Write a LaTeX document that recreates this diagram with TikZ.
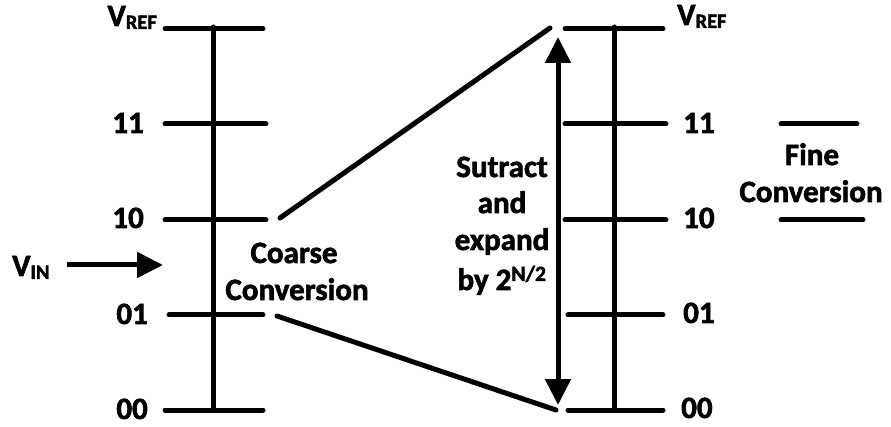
\documentclass[tikz,border=0pt]{standalone}
\usepackage{fontspec}
\setmainfont{Carlito}[BoldFeatures={FakeBold=2}]
\usetikzlibrary{arrows.meta}
\newcommand\lowsub[1]{\raisebox{-3pt}{\fontsize{20.5}{22}\selectfont #1}}
\tikzset{
  thick line/.style={line width=5pt, line cap=round},
  lbl/.style={inner sep=0pt, font=\fontsize{31}{37}\selectfont\bfseries},
  tip/.style={-{Triangle[length=26pt,width=25pt]}},
}
\begin{document}
\begin{tikzpicture}[x=1pt,y=-1pt]
\useasboundingbox (0,0) rectangle (891,427);
% left scale
\coordinate (Ltop) at (213,27);
\coordinate (Lbot) at (213,408);
\coordinate (Lrw) at (165,29);  \coordinate (Lre) at (263,29);
\coordinate (Law) at (165,124); \coordinate (Lae) at (266,124);
\coordinate (Lbw) at (165,220); \coordinate (Lbe) at (266,220);
\coordinate (Lcw) at (169,315); \coordinate (Lce) at (263,315);
\coordinate (Ldw) at (165,410); \coordinate (Lde) at (263,410);
\draw[thick line] (Ltop) -- (Lbot);
\draw[thick line] (Lrw) -- (Lre);
\draw[thick line] (Law) -- (Lae);
\draw[thick line] (Lbw) -- (Lbe);
\draw[thick line] (Lcw) -- (Lce);
\draw[thick line] (Ldw) -- (Lde);
% right scale
\coordinate (Rtop) at (614,27);
\coordinate (Rbot) at (614,408);
\coordinate (Rrw) at (565,29);  \coordinate (Rre) at (663,29);
\coordinate (Raw) at (565,124); \coordinate (Rae) at (666,124);
\coordinate (Rbw) at (565,220); \coordinate (Rbe) at (666,220);
\coordinate (Rcw) at (568,315); \coordinate (Rce) at (663,315);
\coordinate (Rdw) at (568,410); \coordinate (Rde) at (663,410);
\draw[thick line] (Rtop) -- (Rbot);
\draw[thick line] (Rrw) -- (Rre);
\draw[thick line] (Raw) -- (Rae);
\draw[thick line] (Rbw) -- (Rbe);
\draw[thick line] (Rcw) -- (Rce);
\draw[thick line] (Rdw) -- (Rde);
% fine conversion bars
\coordinate (Fa1) at (781,124); \coordinate (Fa2) at (857,124);
\coordinate (Fb1) at (781,220); \coordinate (Fb2) at (863,220);
\draw[thick line] (Fa1) -- (Fa2);
\draw[thick line] (Fb1) -- (Fb2);
% expansion lines
\coordinate (Cu1) at (280,218); \coordinate (Cu2) at (550,28);
\coordinate (Cl1) at (277,316); \coordinate (Cl2) at (556,410);
\draw[thick line] (Cu1) -- (Cu2);
\draw[thick line] (Cl1) -- (Cl2);
% double arrow
\coordinate (Da) at (558,37);
\coordinate (Db) at (558,405);
\draw[line width=5pt, {Triangle[length=26pt,width=25pt]}-{Triangle[length=26pt,width=25pt]}] (Da) -- (Db);
% VIN arrow
\coordinate (Va) at (67,265);
\coordinate (Vb) at (163,265);
\draw[line width=5pt, tip] (Va) -- (Vb);
% left labels
\node[lbl, anchor=base east] (lvref) at (157,26) {V\lowsub{REF}};
\node[lbl, anchor=base east] (l11) at (144,133) {11};
\node[lbl, anchor=base east] (l10) at (144,228) {10};
\node[lbl, anchor=base east] (l01) at (148,324) {01};
\node[lbl, anchor=base east] (l00) at (148,419) {00};
\node[lbl, anchor=base west] (vin) at (12,276) {V\lowsub{IN}};
% right labels
\node[lbl, anchor=base west] (rvref) at (677,25) {V\lowsub{REF}};
\node[lbl, anchor=base west] (r11) at (683,133) {11};
\node[lbl, anchor=base west] (r10) at (683,228) {10};
\node[lbl, anchor=base west] (r01) at (683,323) {01};
\node[lbl, anchor=base west] (r00) at (681,418) {00};
% texts
\node[lbl, anchor=base] (fine) at (812,165) {Fine};
\node[lbl, anchor=base] (fconv) at (811,202) {Conversion};
\node[lbl, anchor=base] (coarse) at (294,263) {Coarse};
\node[lbl, anchor=base] (cconv) at (297,300) {Conversion};
\node[lbl, anchor=base] (s1) at (502,177) {Sutract};
\node[lbl, anchor=base] (s2) at (502,213) {and};
\node[lbl, anchor=base] (s3) at (502,250) {expand};
\node[lbl, anchor=base] (s4) at (502,290) {by 2\textsuperscript{N/2}};
\end{tikzpicture}
\end{document}
